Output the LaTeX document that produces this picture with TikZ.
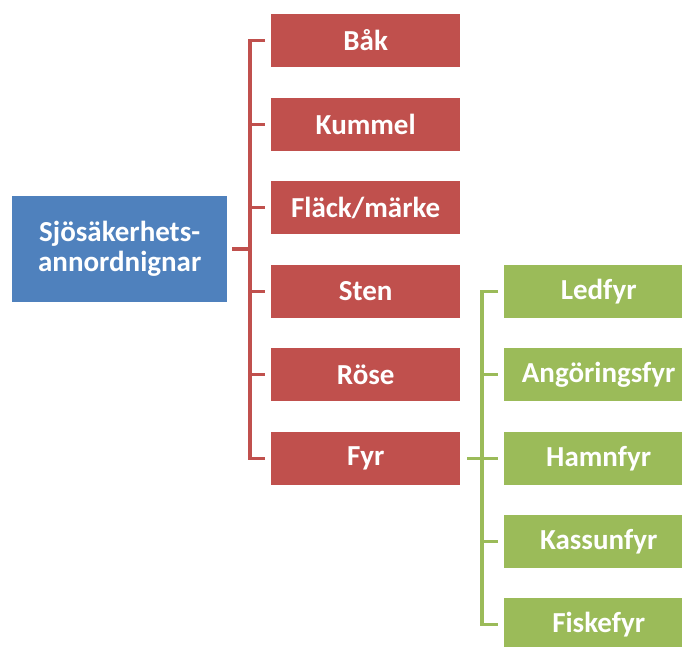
\documentclass[tikz,border=0pt]{standalone}
\usepackage{fontspec}
\setmainfont{Carlito}
\definecolor{cred}{HTML}{C0504D}
\definecolor{cblue}{HTML}{4F81BD}
\definecolor{cgreen}{HTML}{9BBB59}
\begin{document}
\begin{tikzpicture}[x=1pt,y=-1pt,
  box/.style={rectangle,minimum width=189pt,minimum height=53pt,inner sep=0pt,text=white,font=\fontsize{29}{30.5}\selectfont\bfseries,anchor=west},
  redbox/.style={box,fill=cred},
  greenbox/.style={box,fill=cgreen},
  redline/.style={draw=cred,line width=3.5pt},
  greenline/.style={draw=cgreen,line width=3.5pt}]
\useasboundingbox (0,0) rectangle (682,646);
\node[box,fill=cblue,minimum width=215pt,minimum height=106pt,align=center] (root) at (12,249) {Sjösäkerhets-\\annordnignar};
\node[redbox] (bak) at (271,40.5) {Båk};
\node[redbox] (kum) at (271,124.5) {Kummel};
\node[redbox] (flack) at (271,207.5) {Fläck/märke};
\node[redbox] (sten) at (271,291.5) {Sten};
\node[redbox] (rose) at (271,374.5) {Röse};
\node[redbox] (fyr) at (271,458.5) {Fyr};
\node[greenbox] (led) at (504,291.5) {Ledfyr};
\node[greenbox] (ang) at (504,374.5) {Angöringsfyr};
\node[greenbox] (ham) at (504,458.5) {Hamnfyr};
\node[greenbox] (kas) at (504,541.5) {Kassunfyr};
\node[greenbox] (fis) at (504,624.5) {Fiskefyr};
% red connectors
\coordinate (rt) at (250,0);
\draw[redline] ([xshift=5pt]root.east) -- (root.east -| rt);
\draw[redline] ([xshift=-6pt]bak.west) -| (rt |- fyr.west) -- ([xshift=-6pt]fyr.west);
\foreach \n in {kum,flack,sten,rose}
  \draw[redline] (rt |- \n.west) -- ([xshift=-6pt]\n.west);
% green connectors
\coordinate (gt) at (482,0);
\draw[greenline] ([xshift=7pt]fyr.east) -- (fyr.east -| gt);
\draw[greenline] ([xshift=-6pt]led.west) -| (gt |- fis.west) -- ([xshift=-6pt]fis.west);
\foreach \n in {ang,ham,kas}
  \draw[greenline] (gt |- \n.west) -- ([xshift=-6pt]\n.west);
\end{tikzpicture}
\end{document}
